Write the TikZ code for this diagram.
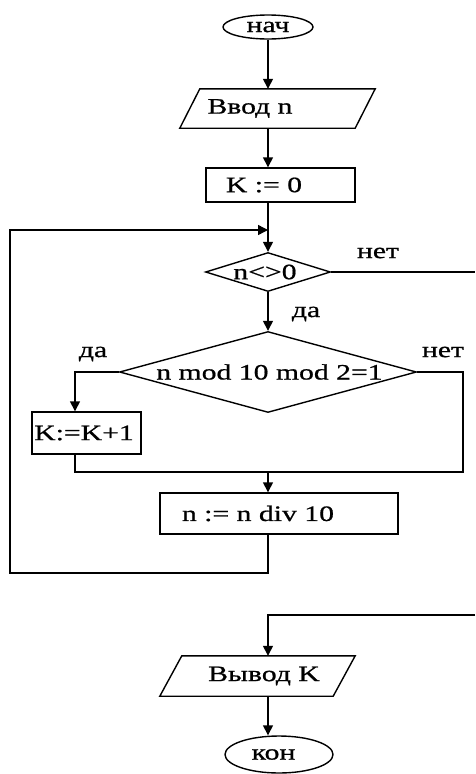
\documentclass[tikz,border=0pt]{standalone}
\usepackage{fontspec}
\setmainfont{Liberation Serif}[FakeStretch=1.35,FakeBold=0.8]
\usetikzlibrary{shapes.geometric,arrows.meta}
\begin{document}
\begin{tikzpicture}[x=1pt,y=-1pt,
  every node/.style={font=\fontsize{22}{24}\selectfont},
  ln/.style={line width=1.4pt},
  arr/.style={ln,-{Triangle[width=10pt,length=10pt]}},
  box/.style={draw,ln,rectangle,inner sep=0},
  term/.style={draw,ln,ellipse,inner sep=0},
  frame/.style={rectangle,inner sep=0},
  dec/.style={draw,ln,diamond,inner sep=0},
  txt/.style={inner sep=0}]
\useasboundingbox (0,0) rectangle (475,774);
% shapes
\node[term,minimum width=90pt,minimum height=24pt] (start) at (268,27) {нач};
\node[frame,minimum width=195pt,minimum height=39pt] (in) at (277.5,108.5) {};
\draw[ln] ([xshift=20pt]in.north west) -- (in.north east) -- ([xshift=-20pt]in.south east) -- (in.south west) -- cycle;
\node[txt] (tin) at (250,108.5) {Ввод n};
\node[box,minimum width=149pt,minimum height=34pt] (k0) at (280.5,185) {};
\node[txt] (tk0) at (264,185) {K := 0};
\node[dec,minimum width=125pt,minimum height=39pt] (d1) at (268,272) {};
\node[txt] (td1) at (265,272) {n<>0};
\node[dec,minimum width=297pt,minimum height=81pt] (d2) at (268,372) {};
\node[txt] (td2) at (269.5,372) {n mod 10 mod 2=1};
\node[box,minimum width=109pt,minimum height=42pt] (k1) at (86.5,433) {};
\node[txt] (tk1) at (84,433) {K:=K+1};
\node[box,minimum width=238pt,minimum height=41pt] (n10) at (279,513.5) {};
\node[txt] (tn10) at (258,513.5) {n := n div 10};
\node[frame,minimum width=195pt,minimum height=40pt] (out) at (257.5,676) {};
\draw[ln] ([xshift=22pt]out.north west) -- (out.north east) -- ([xshift=-22pt]out.south east) -- (out.south west) -- cycle;
\node[txt] (tout) at (264,676) {Вывод K};
\node[term,minimum width=108pt,minimum height=37pt] (end) at (279,754.5) {};
\node[txt] (tend) at (273.5,754.5) {кон};
% labels
\node[txt] (l1) at (378,253) {нет};
\node[txt] (l2) at (306,314) {да};
\node[txt] (l3) at (93,354) {да};
\node[txt] (l4) at (443,352) {нет};
% coordinates
\coordinate (ex1) at (475,272);
\coordinate (ex2) at (475,615);
\coordinate (kx) at (75,372);
\coordinate (mr) at (463,472);
\coordinate (ml) at (75,472);
\coordinate (mc) at (268,472);
\coordinate (lb) at (10,573);
\coordinate (lt) at (10,230);
\coordinate (lj) at (268,230);
% connectors
\draw[arr] (start.south) -- (start.south |- in.north);
\draw[arr] (in.south -| start) -- (k0.north -| start);
\draw[arr] (k0.south -| start) -- (d1.north);
\draw[arr] (d1.south) -- (d2.north);
\draw[ln] (d1.east) -- (ex1);
\draw[arr] (d2.west) -- (kx) -- (kx |- k1.north);
\draw[ln] (d2.east) -| (mr) -- (ml) -- (ml |- k1.south);
\draw[arr] (mc) -- (mc |- n10.north);
\draw[arr] (n10.south -| start) -- (start |- lb) -- (lb) -- (lt) -- (lj);
\draw[arr] (ex2) -- (start |- ex2) -- (start |- out.north);
\draw[arr] (out.south -| start) -- (end.north -| start);
\end{tikzpicture}
\end{document}
